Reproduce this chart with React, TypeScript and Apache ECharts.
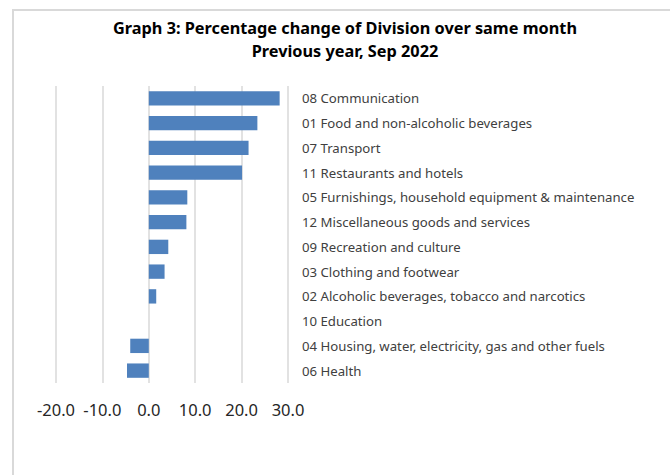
import React, { useEffect, useRef } from "react";
import * as echarts from "echarts";

const categories = [
  "08 Communication",
  "01 Food and non-alcoholic beverages",
  "07 Transport",
  "11 Restaurants and hotels",
  "05 Furnishings, household equipment & maintenance",
  "12 Miscellaneous goods and services",
  "09 Recreation and culture",
  "03 Clothing and footwear",
  "02 Alcoholic beverages, tobacco and narcotics",
  "10 Education",
  "04 Housing, water, electricity, gas and other fuels",
  "06 Health",
];
const values = [28.2, 23.4, 21.5, 20.1, 8.3, 8.1, 4.2, 3.4, 1.6, 0.0, -4.0, -4.7];
const titleLines = ["Graph 3: Percentage change of Division over same month", "Previous year, Sep 2022"];
const xMin = -20;
const xMax = 30;
const xStep = 10;

export default function App() {
  const ref = useRef<HTMLDivElement>(null);
  useEffect(() => {
    document.body.style.margin = "0";
    const chart = echarts.init(ref.current!, null, { renderer: "svg" });
    chart.setOption({
      animation: false,
      backgroundColor: "#ffffff",
      title: {
        text: titleLines.join("\n"),
        left: 340,
        top: 11,
        textAlign: "center",
        textStyle: {
          fontFamily: "Noto Sans",
          fontWeight: "bold",
          fontSize: 16.3,
          lineHeight: 23,
          color: "#000000",
        },
      },
      graphic: [
        {
          type: "rect",
          shape: { x: 13, y: 10, width: 700, height: 500 },
          style: { fill: "none", stroke: "#d9d9d9", lineWidth: 2 },
          silent: true,
        },
      ],
      grid: { left: 56, right: 382, top: 86, bottom: 92, containLabel: false },
      xAxis: {
        type: "value",
        min: xMin,
        max: xMax,
        interval: xStep,
        axisLine: { show: false },
        axisTick: { show: false },
        splitLine: { show: true, lineStyle: { color: "#d9d9d9", width: 1.5 } },
        axisLabel: {
          margin: 18,
          fontFamily: "Noto Sans",
          fontSize: 16.5,
          color: "#262626",
          formatter: (v: number) => v.toFixed(1),
        },
      },
      yAxis: {
        type: "category",
        data: categories,
        inverse: true,
        position: "right",
        axisLine: { show: false },
        axisTick: { show: false },
        splitLine: { show: false },
        axisLabel: {
          margin: 14,
          align: "left",
          fontFamily: "Noto Sans",
          fontSize: 13.2,
          color: "#404040",
        },
      },
      series: [
        {
          type: "bar",
          data: values,
          barCategoryGap: "42%",
          itemStyle: { color: "#4F81BD" },
        },
      ],
    });
    return () => chart.dispose();
  }, []);
  return <div ref={ref} style={{ width: 670, height: 475 }} />;
}
